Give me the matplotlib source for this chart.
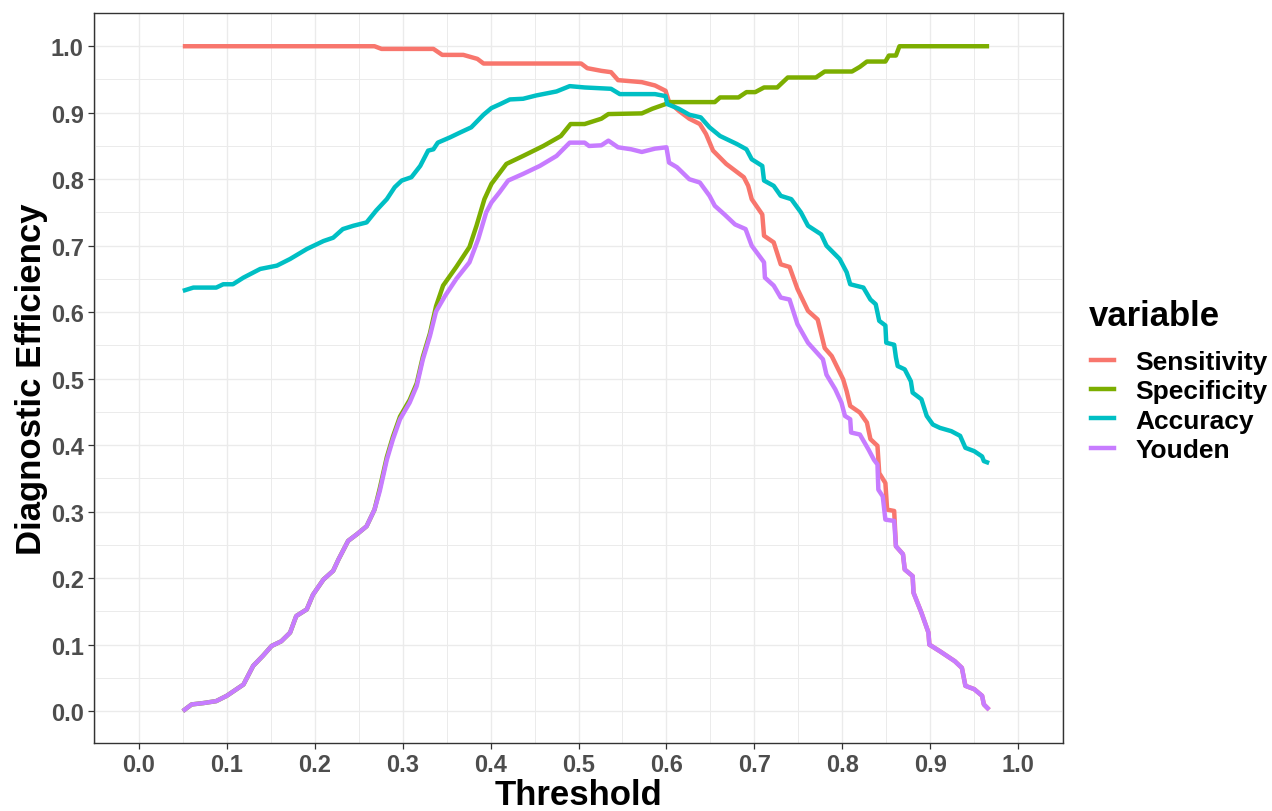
import matplotlib
matplotlib.use("Agg")
import matplotlib.pyplot as plt
from matplotlib.lines import Line2D
from matplotlib.ticker import MultipleLocator

plt.rcParams['font.family'] = ['Liberation Sans', 'DejaVu Sans']

# ---- data ----
series_names = ["Sensitivity", "Specificity", "Accuracy", "Youden"]
series_colors = ["#F8766D", "#7CAE00", "#00BFC4", "#C77CFF"]

youden_t = [0.050, 0.060, 0.073, 0.088, 0.100, 0.119, 0.130, 0.141, 0.151, 0.162,
            0.172, 0.179, 0.191, 0.198, 0.210, 0.221, 0.227, 0.238, 0.248, 0.259,
            0.268, 0.274, 0.282, 0.289, 0.297, 0.308, 0.316, 0.323, 0.331, 0.338,
            0.348, 0.361, 0.376, 0.386, 0.395, 0.401, 0.410, 0.420, 0.437, 0.456,
            0.475, 0.490, 0.507, 0.512, 0.526, 0.534, 0.545, 0.560, 0.572, 0.587,
            0.600, 0.603, 0.612, 0.626, 0.638, 0.649, 0.655, 0.666, 0.678, 0.690,
            0.697, 0.711, 0.712, 0.722, 0.730, 0.740, 0.749, 0.761, 0.778, 0.782,
            0.792, 0.799, 0.803, 0.809, 0.810, 0.820, 0.830, 0.836, 0.840, 0.841,
            0.846, 0.849, 0.859, 0.861, 0.869, 0.871, 0.880, 0.881, 0.890, 0.898,
            0.899, 0.911, 0.928, 0.936, 0.940, 0.950, 0.959, 0.961, 0.967]
youden_v = [0.000, 0.010, 0.012, 0.015, 0.023, 0.040, 0.068, 0.083, 0.098, 0.105,
            0.118, 0.143, 0.153, 0.175, 0.198, 0.211, 0.228, 0.256, 0.266, 0.278,
            0.303, 0.331, 0.378, 0.409, 0.439, 0.464, 0.489, 0.529, 0.564, 0.601,
            0.624, 0.650, 0.675, 0.710, 0.750, 0.765, 0.780, 0.798, 0.808, 0.820,
            0.835, 0.855, 0.855, 0.850, 0.851, 0.858, 0.848, 0.845, 0.841, 0.846,
            0.848, 0.825, 0.818, 0.800, 0.795, 0.775, 0.760, 0.747, 0.732, 0.725,
            0.700, 0.675, 0.652, 0.640, 0.622, 0.619, 0.582, 0.554, 0.529, 0.506,
            0.484, 0.464, 0.444, 0.439, 0.419, 0.416, 0.393, 0.378, 0.371, 0.333,
            0.323, 0.288, 0.286, 0.248, 0.236, 0.213, 0.203, 0.178, 0.148, 0.118,
            0.100, 0.090, 0.075, 0.065, 0.038, 0.033, 0.023, 0.010, 0.002]

sens_t = [0.050, 0.268, 0.276, 0.335, 0.345, 0.369, 0.385, 0.392, 0.503, 0.510,
          0.526, 0.537, 0.545, 0.572, 0.587, 0.599, 0.603, 0.614, 0.626, 0.638,
          0.645, 0.653, 0.668, 0.688, 0.693, 0.697, 0.709, 0.711, 0.722, 0.730,
          0.740, 0.749, 0.761, 0.772, 0.780, 0.788, 0.801, 0.805, 0.809, 0.820,
          0.828, 0.832, 0.840, 0.842, 0.849, 0.851, 0.859, 0.861, 0.869, 0.871,
          0.880, 0.881, 0.890, 0.898, 0.899, 0.911, 0.928, 0.936, 0.940, 0.950,
          0.959, 0.961, 0.967]
sens_v = [1.000, 1.000, 0.996, 0.996, 0.987, 0.987, 0.981, 0.974, 0.974, 0.967,
          0.963, 0.961, 0.949, 0.946, 0.941, 0.933, 0.916, 0.903, 0.891, 0.883,
          0.868, 0.843, 0.823, 0.803, 0.790, 0.770, 0.747, 0.715, 0.705, 0.672,
          0.668, 0.635, 0.602, 0.589, 0.546, 0.534, 0.499, 0.481, 0.459, 0.449,
          0.434, 0.409, 0.399, 0.358, 0.343, 0.303, 0.301, 0.248, 0.236, 0.213,
          0.203, 0.178, 0.148, 0.118, 0.100, 0.090, 0.075, 0.065, 0.038, 0.033,
          0.023, 0.010, 0.002]

spec_t = [0.050, 0.060, 0.073, 0.088, 0.100, 0.119, 0.130, 0.141, 0.151, 0.162,
          0.172, 0.179, 0.191, 0.198, 0.210, 0.221, 0.227, 0.238, 0.248, 0.259,
          0.268, 0.274, 0.282, 0.289, 0.297, 0.308, 0.316, 0.323, 0.331, 0.338,
          0.346, 0.361, 0.376, 0.384, 0.393, 0.401, 0.418, 0.437, 0.460, 0.480,
          0.491, 0.507, 0.526, 0.534, 0.572, 0.584, 0.599, 0.603, 0.655, 0.661,
          0.682, 0.691, 0.701, 0.711, 0.726, 0.738, 0.770, 0.780, 0.811, 0.820,
          0.828, 0.849, 0.853, 0.861, 0.865, 0.967]
spec_v = [0.000, 0.010, 0.012, 0.015, 0.023, 0.040, 0.068, 0.083, 0.098, 0.105,
          0.118, 0.143, 0.153, 0.175, 0.198, 0.211, 0.228, 0.256, 0.266, 0.278,
          0.303, 0.335, 0.382, 0.413, 0.443, 0.468, 0.493, 0.533, 0.568, 0.609,
          0.640, 0.668, 0.698, 0.730, 0.770, 0.793, 0.823, 0.835, 0.850, 0.865,
          0.883, 0.883, 0.891, 0.898, 0.899, 0.906, 0.913, 0.916, 0.916, 0.923,
          0.923, 0.931, 0.931, 0.938, 0.938, 0.953, 0.953, 0.962, 0.962, 0.969,
          0.977, 0.977, 0.986, 0.986, 1.000, 1.000]

acc_t = [0.050, 0.062, 0.088, 0.096, 0.107, 0.119, 0.138, 0.157, 0.172, 0.191,
         0.210, 0.221, 0.232, 0.244, 0.259, 0.270, 0.282, 0.291, 0.299, 0.310,
         0.320, 0.329, 0.335, 0.340, 0.354, 0.365, 0.378, 0.392, 0.401, 0.411,
         0.422, 0.437, 0.452, 0.475, 0.490, 0.507, 0.537, 0.547, 0.587, 0.599,
         0.601, 0.614, 0.626, 0.639, 0.649, 0.661, 0.680, 0.691, 0.697, 0.709,
         0.711, 0.722, 0.730, 0.742, 0.753, 0.761, 0.776, 0.782, 0.797, 0.805,
         0.809, 0.824, 0.832, 0.838, 0.842, 0.849, 0.850, 0.859, 0.861, 0.863,
         0.871, 0.878, 0.880, 0.890, 0.896, 0.903, 0.911, 0.924, 0.934, 0.940,
         0.950, 0.959, 0.961, 0.967]
acc_v = [0.632, 0.637, 0.637, 0.642, 0.642, 0.652, 0.665, 0.670, 0.680, 0.695,
         0.707, 0.712, 0.725, 0.730, 0.735, 0.753, 0.770, 0.788, 0.798, 0.803,
         0.820, 0.843, 0.845, 0.855, 0.863, 0.870, 0.878, 0.897, 0.907, 0.913,
         0.920, 0.921, 0.926, 0.932, 0.940, 0.938, 0.936, 0.928, 0.928, 0.925,
         0.913, 0.906, 0.897, 0.893, 0.878, 0.865, 0.853, 0.845, 0.830, 0.820,
         0.798, 0.790, 0.775, 0.770, 0.750, 0.730, 0.717, 0.700, 0.680, 0.660,
         0.642, 0.637, 0.619, 0.612, 0.587, 0.580, 0.554, 0.551, 0.532, 0.519,
         0.514, 0.496, 0.479, 0.469, 0.444, 0.431, 0.426, 0.421, 0.414, 0.396,
         0.391, 0.383, 0.376, 0.373]

tick_values = [0.0, 0.1, 0.2, 0.3, 0.4, 0.5, 0.6, 0.7, 0.8, 0.9, 1.0]

# ---- figure ----
fig = plt.figure(figsize=(12.72, 8.12), dpi=100)
ax = fig.add_axes([94 / 1272, 1 - 744 / 812, (1063 - 94) / 1272, (744 - 14) / 812])

xs = [sens_t, spec_t, acc_t, youden_t]
ys = [sens_v, spec_v, acc_v, youden_v]
for t, v, col, name in zip(xs, ys, series_colors, series_names):
    ax.plot(t, v, color=col, lw=3.2, label=name,
            solid_capstyle='butt', solid_joinstyle='round')

ax.set_xlim(-0.051, 1.051)
ax.set_ylim(-0.048, 1.05)
ax.set_xticks(tick_values)
ax.set_yticks(tick_values)
ax.set_xticklabels(["{:.1f}".format(v) for v in tick_values])
ax.set_yticklabels(["{:.1f}".format(v) for v in tick_values])
ax.xaxis.set_minor_locator(MultipleLocator(0.05))
ax.yaxis.set_minor_locator(MultipleLocator(0.05))
ax.grid(which='major', color='#EBEBEB', lw=1.0)
ax.grid(which='minor', color='#EBEBEB', lw=0.7)
ax.set_axisbelow(True)

for sp in ax.spines.values():
    sp.set_color('#333333')
    sp.set_linewidth(1.0)

ax.tick_params(which='major', length=4.3, width=0.9, color='#333333',
               labelsize=17, labelcolor='#4D4D4D', pad=3)
ax.tick_params(which='minor', length=0)
for lab in ax.get_xticklabels() + ax.get_yticklabels():
    lab.set_fontweight('bold')

ax.set_xlabel("Threshold", fontsize=25, fontweight='bold', labelpad=1.5)
ax.set_ylabel("Diagnostic Efficiency", fontsize=25, fontweight='bold', labelpad=2)

# legend: title drawn separately so the gap below it matches
fig.text(1089 / 1272, 1 - 317 / 812, "variable", fontsize=25, fontweight='bold',
         ha='left', va='center')
handles = [Line2D([], [], color=c, lw=3.2) for c in series_colors]
fig.legend(handles, series_names, loc='center left',
           bbox_to_anchor=(1080 / 1272, 1 - 407 / 812), frameon=False,
           prop={'weight': 'bold', 'size': 19}, handlelength=0.9,
           handletextpad=0.8, labelspacing=0.2, borderaxespad=0)

fig.savefig("out.png", dpi=100)
